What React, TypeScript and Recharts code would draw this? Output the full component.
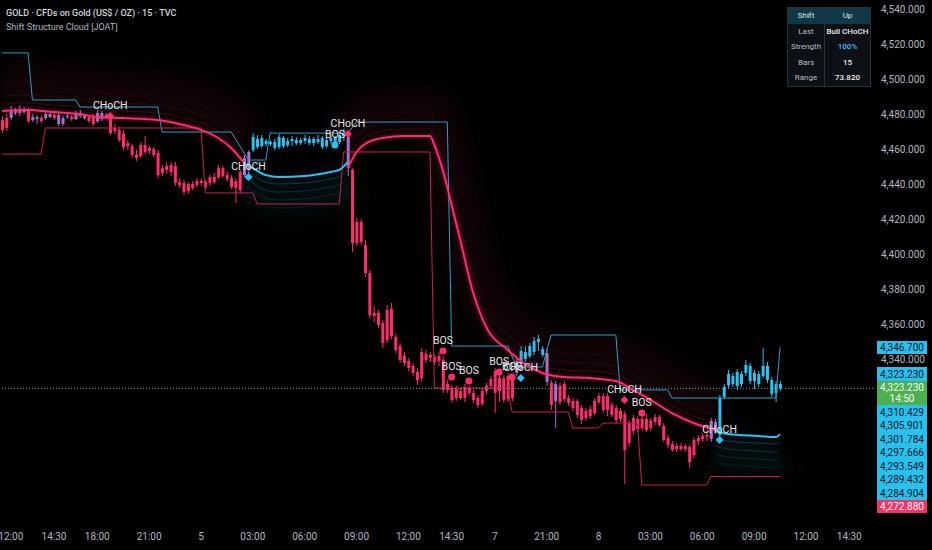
import React from "react";
import { ComposedChart, Bar, Line, XAxis, YAxis, ReferenceLine, ReferenceDot } from "recharts";

const FONT = "Roboto, 'Noto Sans', sans-serif";
const PRICE_MIN = 4248.0;
const PRICE_MAX = 4545.14;
const PLOT_H = 520;
const SLOTS = 202;

const BEAR = "#ff2d6c";
const BULL = "#2cc2f0";
const MIXED = "#a873c9";

// 15m candles, left to right
const opens = [
  4476.6, 4472.0, 4477.7, 4481.7, 4480.6, 4482.9, 4482.3, 4476.6, 4478.3, 4477.7,
  4477.7, 4480.0, 4479.4, 4479.4, 4474.3, 4478.3, 4478.3, 4477.1, 4480.6, 4478.9,
  4478.3, 4478.9, 4476.0, 4480.6, 4477.7, 4478.3, 4470.3, 4470.9, 4468.6, 4461.7,
  4461.7, 4456.6, 4456.0, 4462.3, 4458.9, 4460.0, 4457.7, 4446.3, 4448.0, 4446.9,
  4450.3, 4441.1, 4440.6, 4436.0, 4440.0, 4439.4, 4441.7, 4441.1, 4440.6, 4444.0,
  4444.0, 4449.1, 4445.1, 4443.4, 4441.7, 4436.6, 4445.1, 4448.0, 4459.4, 4465.7,
  4461.7, 4464.6, 4462.9, 4464.0, 4461.1, 4466.3, 4462.3, 4464.6, 4465.1, 4463.4,
  4464.6, 4465.7, 4463.4, 4465.7, 4466.3, 4461.7, 4464.6, 4466.3, 4464.0, 4467.4,
  4466.9, 4448.0, 4406.3, 4418.3, 4405.1, 4389.1, 4364.6, 4366.3, 4360.6, 4350.9,
  4368.6, 4352.6, 4347.4, 4341.7, 4338.9, 4336.0, 4332.6, 4329.1, 4342.9, 4340.6,
  4341.1, 4338.9, 4339.4, 4325.7, 4323.4, 4317.7, 4321.7, 4317.7, 4323.4, 4320.6,
  4317.7, 4314.3, 4321.7, 4324.6, 4333.1, 4321.7, 4329.1, 4317.1, 4329.7, 4332.0,
  4337.1, 4344.0, 4341.7, 4344.0, 4349.7, 4345.7, 4343.4, 4326.3, 4325.7, 4315.4,
  4317.1, 4317.7, 4316.0, 4316.0, 4312.0, 4306.3, 4307.4, 4309.1, 4315.4, 4318.9,
  4310.9, 4313.7, 4312.0, 4305.7, 4308.6, 4292.0, 4298.9, 4305.7, 4300.6, 4305.7,
  4300.6, 4304.0, 4306.9, 4301.7, 4294.9, 4291.4, 4288.6, 4290.3, 4288.6, 4289.7,
  4285.1, 4293.1, 4294.3, 4295.4, 4294.3, 4304.0, 4296.6, 4318.3, 4325.1, 4330.3,
  4324.6, 4331.4, 4332.0, 4336.0, 4327.4, 4331.4, 4330.3, 4336.0, 4328.0, 4320.6,
  4325.7,
];
const highs = [
  4478.9, 4480.0, 4484.6, 4483.4, 4485.1, 4484.0, 4483.4, 4480.0, 4479.4, 4478.9,
  4481.1, 4481.7, 4480.6, 4481.1, 4478.9, 4480.0, 4479.4, 4481.7, 4482.3, 4480.0,
  4479.4, 4480.0, 4482.3, 4481.7, 4480.6, 4480.6, 4474.3, 4472.6, 4470.9, 4465.1,
  4462.9, 4459.4, 4464.0, 4467.4, 4461.7, 4461.1, 4459.4, 4450.9, 4452.0, 4452.6,
  4452.6, 4443.4, 4442.3, 4441.1, 4441.7, 4443.4, 4442.9, 4442.3, 4445.1, 4446.3,
  4450.9, 4450.3, 4446.9, 4445.1, 4443.4, 4448.0, 4456.6, 4459.4, 4469.1, 4468.0,
  4468.0, 4465.7, 4465.1, 4465.7, 4468.6, 4467.4, 4466.3, 4467.4, 4466.9, 4466.3,
  4468.0, 4467.4, 4466.9, 4468.0, 4467.4, 4466.9, 4468.0, 4467.4, 4469.7, 4471.4,
  4470.3, 4449.1, 4420.6, 4420.0, 4408.0, 4390.9, 4370.3, 4368.0, 4362.3, 4370.9,
  4372.0, 4354.3, 4349.1, 4344.0, 4340.6, 4337.7, 4334.9, 4346.3, 4345.1, 4344.0,
  4342.9, 4344.0, 4341.7, 4328.0, 4325.1, 4324.6, 4323.4, 4325.7, 4325.1, 4322.3,
  4319.4, 4323.4, 4326.3, 4330.3, 4334.9, 4331.4, 4330.9, 4332.0, 4331.4, 4340.6,
  4347.4, 4347.4, 4349.1, 4352.6, 4353.7, 4347.4, 4346.3, 4328.0, 4327.4, 4326.3,
  4327.4, 4319.4, 4317.7, 4317.1, 4313.7, 4312.0, 4313.1, 4317.7, 4320.6, 4320.6,
  4320.6, 4315.4, 4313.7, 4312.0, 4310.3, 4305.1, 4308.0, 4307.4, 4307.4, 4308.6,
  4306.3, 4308.6, 4308.0, 4303.4, 4296.6, 4293.1, 4292.0, 4292.0, 4291.4, 4290.9,
  4295.4, 4296.6, 4297.7, 4298.9, 4306.3, 4305.7, 4319.4, 4325.7, 4333.7, 4332.0,
  4334.3, 4333.1, 4339.4, 4337.7, 4333.7, 4333.1, 4346.3, 4338.3, 4329.7, 4327.4,
  4327.4,
];
const lows = [
  4469.1, 4470.3, 4476.6, 4479.4, 4478.9, 4480.0, 4474.9, 4475.4, 4474.3, 4474.9,
  4476.6, 4477.7, 4476.6, 4473.1, 4473.1, 4477.1, 4476.0, 4476.6, 4477.7, 4476.6,
  4474.9, 4473.1, 4474.9, 4476.0, 4477.1, 4468.0, 4468.6, 4464.0, 4459.4, 4459.4,
  4454.9, 4453.1, 4454.9, 4457.1, 4457.1, 4455.4, 4443.4, 4444.6, 4445.7, 4444.6,
  4438.9, 4437.7, 4433.7, 4434.3, 4436.6, 4438.3, 4438.9, 4437.1, 4438.9, 4440.0,
  4442.9, 4443.4, 4441.7, 4437.1, 4429.1, 4434.9, 4444.0, 4445.1, 4458.3, 4460.0,
  4460.6, 4461.7, 4461.7, 4459.4, 4460.0, 4460.6, 4461.1, 4461.7, 4462.3, 4462.3,
  4462.9, 4462.3, 4461.7, 4462.9, 4460.0, 4460.6, 4462.9, 4461.1, 4462.9, 4464.6,
  4444.6, 4401.1, 4404.6, 4405.1, 4386.9, 4363.4, 4361.1, 4357.7, 4346.3, 4349.1,
  4351.4, 4343.4, 4337.7, 4336.0, 4333.1, 4330.3, 4325.1, 4326.9, 4337.7, 4338.3,
  4336.6, 4336.0, 4320.6, 4320.6, 4314.9, 4316.0, 4316.6, 4315.4, 4318.9, 4314.9,
  4312.0, 4313.1, 4320.0, 4322.9, 4309.1, 4315.4, 4314.9, 4315.4, 4316.0, 4330.3,
  4335.4, 4338.3, 4340.6, 4342.3, 4344.6, 4341.1, 4324.6, 4310.9, 4300.6, 4313.7,
  4315.4, 4313.1, 4310.3, 4306.3, 4302.9, 4304.6, 4305.7, 4308.0, 4314.3, 4309.1,
  4307.4, 4306.9, 4303.4, 4304.0, 4268.6, 4289.7, 4297.1, 4298.3, 4298.9, 4298.3,
  4298.9, 4302.3, 4301.1, 4292.6, 4289.1, 4286.9, 4286.9, 4287.4, 4286.9, 4277.7,
  4283.4, 4290.9, 4292.6, 4293.1, 4292.6, 4297.1, 4292.6, 4317.1, 4323.4, 4324.0,
  4322.3, 4324.0, 4330.3, 4325.7, 4322.9, 4324.0, 4329.1, 4326.3, 4318.3, 4315.4,
  4321.7,
];
const closes = [
  4470.9, 4477.7, 4482.3, 4480.6, 4482.9, 4481.1, 4476.0, 4478.3, 4477.1, 4476.0,
  4480.0, 4478.3, 4477.7, 4474.3, 4477.7, 4478.9, 4477.1, 4480.6, 4478.9, 4477.7,
  4476.0, 4474.3, 4480.6, 4477.1, 4479.4, 4469.1, 4472.0, 4465.1, 4461.1, 4463.4,
  4456.6, 4454.9, 4462.3, 4458.3, 4460.6, 4456.6, 4445.1, 4449.1, 4450.3, 4450.9,
  4440.6, 4439.4, 4435.4, 4440.0, 4437.7, 4441.7, 4440.6, 4438.3, 4444.0, 4441.1,
  4449.1, 4444.6, 4442.9, 4438.3, 4437.7, 4446.9, 4454.9, 4458.3, 4466.9, 4461.1,
  4466.3, 4462.9, 4464.0, 4460.6, 4466.9, 4461.7, 4464.6, 4465.7, 4463.4, 4465.1,
  4466.3, 4463.4, 4465.7, 4464.0, 4461.1, 4465.1, 4466.3, 4462.3, 4468.0, 4469.1,
  4449.1, 4406.3, 4418.3, 4406.9, 4389.1, 4365.1, 4366.3, 4359.4, 4349.1, 4368.0,
  4353.1, 4345.1, 4339.4, 4337.7, 4334.9, 4332.0, 4328.0, 4344.0, 4339.4, 4342.3,
  4338.3, 4341.7, 4322.3, 4322.3, 4316.6, 4322.9, 4317.7, 4324.0, 4320.6, 4316.6,
  4313.7, 4321.7, 4324.6, 4328.6, 4320.6, 4329.1, 4316.6, 4330.3, 4317.7, 4338.9,
  4344.6, 4340.0, 4347.4, 4350.3, 4351.4, 4342.3, 4326.9, 4313.7, 4316.0, 4324.6,
  4325.7, 4314.9, 4312.0, 4308.0, 4305.1, 4310.3, 4311.4, 4316.0, 4318.9, 4310.9,
  4318.9, 4308.0, 4305.1, 4310.3, 4288.0, 4303.4, 4306.3, 4300.0, 4305.7, 4299.4,
  4304.6, 4306.9, 4302.3, 4293.7, 4290.9, 4288.0, 4290.3, 4288.6, 4290.3, 4281.1,
  4293.7, 4294.9, 4296.0, 4296.6, 4304.6, 4298.9, 4317.7, 4324.0, 4331.4, 4325.7,
  4332.6, 4325.7, 4336.6, 4327.4, 4332.0, 4325.7, 4336.0, 4328.0, 4320.0, 4325.7,
  4323.23,
];
// structure state per candle: -1 bearish, 0 transition, 1 bullish
const trendState = [
  -1, -1, 0, 0, 0, 0, -1, 0, 0, -1, 0, 0, -1, 0, 0, 0, -1, 0, 0, 0, -1, -1, 0, 0, 0,
  -1, -1, -1, -1, -1, -1, -1, -1, -1, -1, -1, -1, -1, -1, -1, -1, -1, -1, -1, -1, -1, -1, -1, -1, -1, -1, -1, -1, -1, -1, -1,
  0, 0,
  1, 1, 1, 1, 1, 1, 1, 1, 1, 1, 1, 1, 1, 1, 1, 1, 1, 1, 1, 1, 1, 1,
  0,
  -1, -1, -1, -1, -1, -1, -1, -1, -1, -1, -1, -1, -1, -1, -1, -1, -1, -1, -1, -1,
  -1, -1, -1, -1, -1, -1, -1, -1, -1, -1, -1, -1, -1, -1, -1, -1, -1, -1,
  0,
  1, 1, 1, 1, 1, 1,
  0, -1, 0,
  -1, -1, -1, -1, -1, -1, -1, -1, -1, -1, -1, -1, -1, -1, -1, -1, -1, -1, -1, -1,
  -1, -1, -1, -1, -1, -1, -1, -1, -1, -1, -1, -1, -1, -1, -1,
  0, 0,
  1, 1, 1, 1, 1, 1, 1, 1, 1, 1, 1, 1, 1, 1, 1,
];

// cloud centre line, [bar, price]
const bearPathA: [number, number][] = [
  [0, 4481.7], [6, 4482.3], [12, 4481.1], [18, 4480.0], [22, 4478.3], [28, 4477.7],
  [36, 4476.6], [42, 4473.7], [46, 4470.9], [50, 4466.3], [53, 4460.6], [56, 4452.0],
];
const bullPathA: [number, number][] = [
  [56, 4452.0], [58, 4449.1], [61, 4445.1], [64, 4444.0], [70, 4444.6], [76, 4446.9],
  [78, 4448.0], [80, 4452.6],
];
const bearPathB: [number, number][] = [
  [80, 4449.1], [82, 4458.3], [84, 4462.9], [88, 4466.3], [93, 4467.4], [99, 4467.4],
  [100, 4462.3], [102, 4447.4], [104, 4428.0], [106, 4408.0], [109, 4377.7], [112, 4358.3],
  [117, 4345.1], [121, 4337.1], [125, 4332.0], [130, 4329.7], [136, 4329.1], [142, 4327.4],
  [146, 4322.3], [150, 4316.6], [155, 4309.1], [160, 4303.4], [165, 4299.4],
];
const bullPathB: [number, number][] = [
  [165, 4298.9], [168, 4297.1], [175, 4296.0], [179, 4295.4], [180, 4297.1],
];

// structure bands, [bar, price]
const upperBand: [number, number][] = [
  [0, 4514.9], [6, 4514.9], [7, 4488.0], [17, 4488.0], [18, 4484.0], [36, 4484.0],
  [37, 4469.7], [53, 4469.7], [57, 4453.7], [61, 4453.7], [62, 4469.1], [80, 4469.1],
  [82, 4475.4], [103, 4475.4], [104, 4347.4], [117, 4347.4], [119, 4335.4], [125, 4335.4],
  [127, 4353.7], [142, 4353.7], [143, 4322.3], [154, 4322.3], [155, 4317.7], [179, 4317.7],
  [180, 4346.7],
];
const lowerBand: [number, number][] = [
  [0, 4457.1], [9, 4457.1], [10, 4472.0], [46, 4472.0], [47, 4434.9], [58, 4434.9],
  [59, 4428.6], [78, 4428.6], [79, 4458.3], [99, 4458.3], [100, 4323.4], [117, 4323.4],
  [118, 4309.7], [131, 4309.7], [132, 4300.6], [138, 4300.6], [139, 4303.4], [147, 4303.4],
  [148, 4268.0], [163, 4268.0], [164, 4272.88], [180, 4272.88],
];

// structure signals: [bar, price, label, direction]
const signals: [number, number, string, number][] = [
  [25, 4478.9, "CHoCH", -1],
  [57, 4444.0, "CHoCH", 1],
  [77, 4462.3, "BOS", 1],
  [80, 4468.6, "CHoCH", -1],
  [102, 4344.6, "BOS", -1],
  [104, 4329.7, "BOS", -1],
  [108, 4327.4, "BOS", -1],
  [115, 4332.6, "BOS", -1],
  [118, 4329.7, "BOS", -1],
  [120, 4329.1, "CHoCH", 1],
  [144, 4316.6, "CHoCH", -1],
  [148, 4309.1, "BOS", -1],
  [166, 4293.7, "CHoCH", 1],
];

const timeTicks: [number, string][] = [
  [2, "12:00"], [12, "14:30"], [22, "18:00"], [34, "21:00"], [46, "5"], [58, "03:00"],
  [70, "06:00"], [82, "09:00"], [94, "12:00"], [104, "14:30"], [114, "7"], [126, "21:00"],
  [138, "8"], [150, "03:00"], [162, "06:00"], [174, "09:00"], [186, "12:00"], [196, "14:30"],
];
const priceTicks = [4340, 4360, 4380, 4400, 4420, 4440, 4460, 4480, 4500, 4520, 4540];

const lastPrice = 4323.23;
const bandTopTag = 4346.7;
const cloudTags = ["4,310.429", "4,305.901", "4,301.784", "4,297.666", "4,293.549", "4,289.432", "4,284.904"];
const bandLowTag = "4,272.880";

const tableRows: [string, string][] = [
  ["Last", "Bull CHoCH"],
  ["Strength", "100%"],
  ["Bars", "15"],
  ["Range", "73.820"],
];

const data: Record<string, any>[] = Array.from({ length: SLOTS }, (_, j) => ({
  j,
  open: opens[j] ?? null,
  high: highs[j] ?? null,
  low: lows[j] ?? null,
  close: closes[j] ?? null,
  state: trendState[j] ?? null,
}));
const place = (key: string, pts: [number, number][]) =>
  pts.forEach(([j, v]) => { data[j][key] = v; });
place("bearA", bearPathA);
place("bullA", bullPathA);
place("bearB", bearPathB);
place("bullB", bullPathB);
place("upper", upperBand);
place("lower", lowerBand);

const timeLabel = new Map(timeTicks);
const fmt = (v: number) => v.toLocaleString("en-US", { minimumFractionDigits: 3, maximumFractionDigits: 3 });
const yOf = (v: number) => ((PRICE_MAX - v) / (PRICE_MAX - PRICE_MIN)) * PLOT_H;
const colorOf = (s: number) => (s > 0 ? BULL : s < 0 ? BEAR : MIXED);

const Candle = (props: any) => {
  const { x, y, width, height, payload } = props;
  if (!payload || payload.open == null || !isFinite(y) || !isFinite(height)) return null;
  const span = payload.high - payload.low || 1;
  const py = (v: number) => y + ((payload.high - v) / span) * height;
  const cx = x + width / 2;
  const top = Math.min(py(payload.open), py(payload.close));
  const bot = Math.max(py(payload.open), py(payload.close));
  const c = colorOf(payload.state);
  return (
    <g>
      <line x1={cx} x2={cx} y1={y} y2={y + height} stroke={c} strokeWidth={1} />
      <rect x={cx - 1.5} y={top} width={3} height={Math.max(1, bot - top)} fill={c} />
    </g>
  );
};

const TimeTick = (props: any) => {
  const { x, y, payload } = props;
  const label = timeLabel.get(payload.value);
  if (!label) return <g />;
  return (
    <text x={x} y={y + 20} textAnchor="middle" fill="#b2b5be" fontSize={10} fontFamily={FONT}>
      {label}
    </text>
  );
};

const SignalMark = ({ cx, cy, label, dir }: any) => {
  const c = dir > 0 ? BULL : BEAR;
  return (
    <g>
      {label === "CHoCH" ? (
        <path d={`M${cx},${cy - 4} L${cx + 4},${cy} L${cx},${cy + 4} L${cx - 4},${cy} Z`} fill={c} />
      ) : (
        <circle cx={cx} cy={cy} r={3.5} fill={c} />
      )}
      <text x={cx} y={cy - 7} textAnchor="middle" fill="#e6e6e6" fontSize={10.5} fontFamily={FONT}>
        {label}
      </text>
    </g>
  );
};

const bearGlow = [
  { cls: "pg-haze", w: 46, o: 0.06 },
  { cls: "pg-3", w: 1, o: 0.08 },
  { cls: "pg-2", w: 1, o: 0.12 },
  { cls: "pg-1", w: 1, o: 0.18 },
  { cls: "", w: 7, o: 0.12 },
];
const bullGlow = [
  { cls: "cb-haze", w: 40, o: 0.07 },
  { cls: "cb-4", w: 1, o: 0.12 },
  { cls: "cb-3", w: 1, o: 0.18 },
  { cls: "cb-2", w: 1, o: 0.25 },
  { cls: "cb-1", w: 1, o: 0.32 },
];

const css = `
.pg-haze { filter: blur(8px); transform: translateY(-24px); }
.pg-1 { transform: translateY(-7px); }
.pg-2 { transform: translateY(-15px); }
.pg-3 { transform: translateY(-24px); }
.cb-haze { filter: blur(7px); transform: translateY(18px); }
.cb-1 { transform: translateY(7px); }
.cb-2 { transform: translateY(15px); }
.cb-3 { transform: translateY(23px); }
.cb-4 { transform: translateY(31px); }
`;

const tagBase: React.CSSProperties = {
  position: "absolute",
  left: 877,
  width: 50,
  height: 13.5,
  fontFamily: FONT,
  fontSize: 10,
  display: "flex",
  alignItems: "center",
  justifyContent: "center",
};

export default function App() {
  const lastY = yOf(lastPrice);
  const greenTop = lastY - 7.5;
  return (
    <div style={{ position: "fixed", left: 0, top: 0, width: 932, height: 550, background: "#000", overflow: "hidden" }}>
      <style>{css}</style>
      <ComposedChart width={932} height={550} data={data} margin={{ top: 0, right: 0, bottom: 0, left: 0 }}>
        <XAxis dataKey="j" type="category" interval={0} height={30} tickSize={0} tickMargin={0}
          axisLine={false} tickLine={false} tick={<TimeTick />} />
        <YAxis orientation="right" width={59} domain={[PRICE_MIN, PRICE_MAX]} allowDataOverflow
          ticks={priceTicks} interval={0} tickFormatter={fmt} axisLine={false} tickLine={false}
          tickSize={0} tickMargin={8} tick={{ fill: "#b2b5be", fontSize: 10, fontFamily: FONT }} />

        {["bearA", "bearB"].flatMap((k) =>
          bearGlow.map((g) => (
            <Line key={k + g.cls + g.w} dataKey={k} className={g.cls} stroke={BEAR} strokeWidth={g.w}
              strokeOpacity={g.o} type="monotone" connectNulls dot={false} activeDot={false} isAnimationActive={false} />
          ))
        )}
        {["bullA", "bullB"].flatMap((k) =>
          bullGlow.map((g) => (
            <Line key={k + g.cls + g.w} dataKey={k} className={g.cls} stroke="#1ea3cc" strokeWidth={g.w}
              strokeOpacity={g.o} type="monotone" connectNulls dot={false} activeDot={false} isAnimationActive={false} />
          ))
        )}

        <Line dataKey="upper" stroke="#2a9fc0" strokeWidth={1} type="linear" connectNulls dot={false} activeDot={false} isAnimationActive={false} />
        <Line dataKey="lower" stroke="#c6234f" strokeWidth={1} type="linear" connectNulls dot={false} activeDot={false} isAnimationActive={false} />

        <ReferenceLine y={lastPrice} stroke="#8d919a" strokeDasharray="1 2" strokeWidth={1} />

        <Line dataKey="bearA" stroke={BEAR} strokeWidth={2} type="monotone" connectNulls dot={false} activeDot={false} isAnimationActive={false} />
        <Line dataKey="bearB" stroke={BEAR} strokeWidth={2} type="monotone" connectNulls dot={false} activeDot={false} isAnimationActive={false} />
        <Line dataKey="bullA" stroke={BULL} strokeWidth={2} type="monotone" connectNulls dot={false} activeDot={false} isAnimationActive={false} />
        <Line dataKey="bullB" stroke={BULL} strokeWidth={2} type="monotone" connectNulls dot={false} activeDot={false} isAnimationActive={false} />

        <Bar dataKey={(d: any) => (d.low == null ? null : [d.low, d.high])} barSize={3}
          shape={<Candle />} isAnimationActive={false} />

        {signals.map(([j, price, label, dir], i) => (
          <ReferenceDot key={i} x={j} y={price} r={3} ifOverflow="visible"
            shape={(p: any) => <SignalMark cx={p.cx} cy={p.cy} label={label} dir={dir} />} />
        ))}
      </ComposedChart>

      <div style={{ position: "absolute", left: 6, top: 6, fontFamily: FONT, lineHeight: "14px" }}>
        <div style={{ color: "#d1d4dc", fontSize: 9, fontWeight: 500 }}>GOLD · CFDs on Gold (US$ / OZ) · 15 · TVC</div>
        <div style={{ color: "#b2b5be", fontSize: 9 }}>Shift Structure Cloud [JOAT]</div>
      </div>

      <div style={{ position: "absolute", left: 787, top: 7, width: 82, border: "1px solid #2b3038",
        background: "#0c0f14", fontFamily: FONT, fontSize: 8 }}>
        <div style={{ display: "flex", height: 15.5, background: "#113846", color: "#d6ecf3" }}>
          <div style={{ width: 36, borderRight: "1px solid #2b3038", display: "flex", alignItems: "center", justifyContent: "center" }}>Shift</div>
          <div style={{ flex: 1, display: "flex", alignItems: "center", justifyContent: "center" }}>Up</div>
        </div>
        {tableRows.map(([k, v]) => (
          <div key={k} style={{ display: "flex", height: 15.5 }}>
            <div style={{ width: 36, borderRight: "1px solid #2b3038", color: "#b8bcc4", display: "flex", alignItems: "center", justifyContent: "center" }}>{k}</div>
            <div style={{ flex: 1, color: k === "Strength" ? BULL : "#eceef1", fontWeight: 500, display: "flex", alignItems: "center", justifyContent: "center" }}>{v}</div>
          </div>
        ))}
      </div>

      <div style={{ ...tagBase, top: yOf(bandTopTag) - 6.5, background: "#26c1ef", color: "#06131c" }}>{fmt(bandTopTag)}</div>
      <div style={{ ...tagBase, top: greenTop - 13.5, background: "#26c1ef", color: "#06131c" }}>{fmt(lastPrice)}</div>
      <div style={{ ...tagBase, top: greenTop, height: 24.5, background: "#4caf50", color: "#f4fff4",
        flexDirection: "column", lineHeight: "11px" }}>
        <span>{fmt(lastPrice)}</span>
        <span>14:50</span>
      </div>
      {cloudTags.map((t, i) => (
        <div key={t} style={{ ...tagBase, top: greenTop + 24.5 + i * 13.5, background: "#26c1ef", color: "#06131c" }}>{t}</div>
      ))}
      <div style={{ ...tagBase, top: greenTop + 24.5 + cloudTags.length * 13.5, background: "#f23467", color: "#fff" }}>{bandLowTag}</div>
    </div>
  );
}
